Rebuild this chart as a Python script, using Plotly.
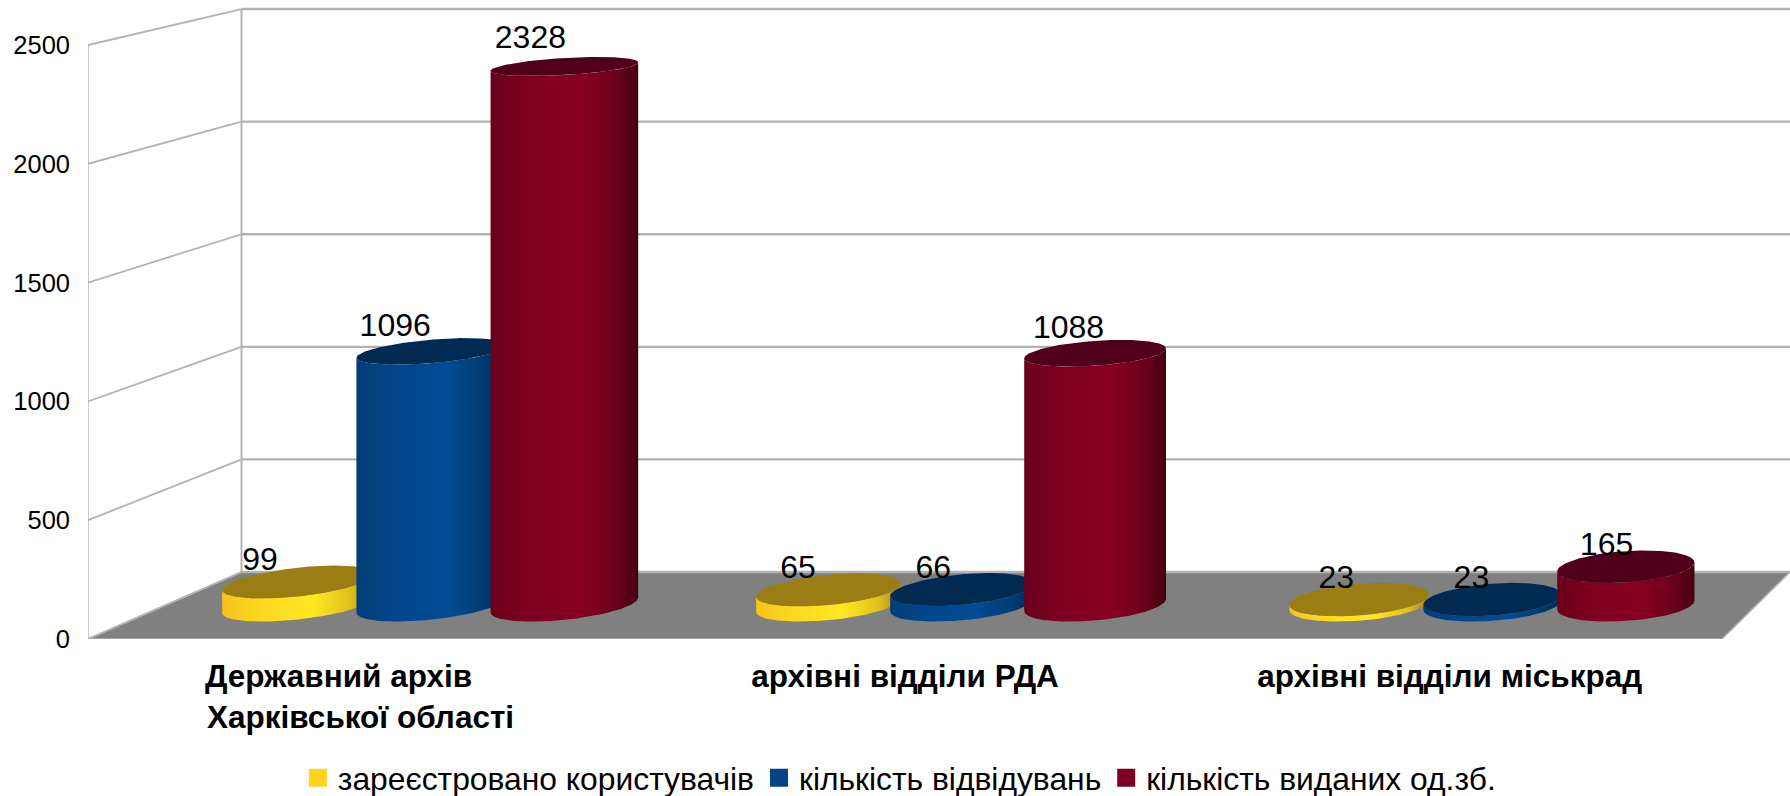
import numpy as np
import plotly.graph_objects as go

# ---------- data ----------
categories = ["Державний архів", "архівні відділи РДА", "архівні відділи міськрад"]
category_second_line = "Харківської області"
series_names = ["зареєстровано користувачів", "кількість відвідувань", "кількість виданих од.зб."]
registered = [99, 65, 23]
visits = [1096, 66, 23]
issued = [2328, 1088, 165]
y_ticks = [0, 500, 1000, 1500, 2000, 2500]

# ---------- style ----------
W, H = 1790, 796
FONT = "Liberation Sans"
GRID = "#b3b3b3"
FLOOR = "#808080"
legend_colors = ["#ffd320", "#004586", "#7e0021"]
top_colors = ["#9a7e14", "#002a52", "#50001a"]
body_scales = [
    [[0, "#f6c31c"], [0.25, "#fdd720"], [0.6, "#ffe821"], [0.85, "#e0c01e"], [1, "#a08414"]],
    [[0, "#003e76"], [0.25, "#00468a"], [0.6, "#004c94"], [0.85, "#003c72"], [1, "#00274e"]],
    [[0, "#6a001c"], [0.25, "#7e0021"], [0.6, "#880024"], [0.85, "#6c001c"], [1, "#440010"]],
]

# axis scale: pixels per category and per value unit
PX_CAT = 544.67
PX_VAL = 0.2376
X0_PX, Y0_PX = 88, 639

# one-point perspective of the chart box
VX = (3023 - X0_PX) / PX_CAT
VY = (Y0_PX + 642) / PX_VAL
SHRINK = 0.0523


def project(x, v, d):
    s = 1 - SHRINK * np.asarray(d, dtype=float)
    return VX + (np.asarray(x, dtype=float) - VX) * s, VY + (np.asarray(v, dtype=float) - VY) * s


fig = go.Figure()


def line(xs, ys, width):
    fig.add_trace(go.Scatter(x=xs, y=ys, mode="lines", line=dict(color=GRID, width=width),
                             showlegend=False, hoverinfo="skip", cliponaxis=False))


n = len(categories)
FRONT_R = 3.0
x_end = (W - X0_PX) / PX_CAT

# floor
fx, fy = project([0, FRONT_R, FRONT_R, 0, 0], [0, 0, 0, 0, 0], [0, 0, 1, 1, 0])
fig.add_trace(go.Scatter(x=fx, y=fy, mode="lines", fill="toself", fillcolor=FLOOR,
                         line=dict(color=GRID, width=1.5), showlegend=False, hoverinfo="skip",
                         cliponaxis=False))
# walls
top = y_ticks[-1]
for t in y_ticks:
    bx, by = project([0, 0, FRONT_R], [t, t, t], [0, 1, 1])
    line(bx[:2], by[:2], 1.8)
    line(bx[1:], by[1:], 2.4)
lx, ly = project([0, 0], [0, top], [0, 0])
line(lx, ly, 1.4)
lx, ly = project([0, 0], [0, top], [1, 1])
line(lx, ly, 2)

# cylinders
GROUP0, GROUP_STEP = 0.5001, 1.001
BAR_STEP = 0.2515
RX = 0.1245
DC, DR = 0.51, 0.25
LABEL_D = 0.25
LABEL_UP = 36.8 / PX_VAL
theta = np.linspace(0, 2 * np.pi, 240, endpoint=False)
values = [registered, visits, issued]
label_x = [[], [], []]
label_y = [[], [], []]
label_t = [[], [], []]

for g in range(n):
    gc = GROUP0 + GROUP_STEP * g
    for k, vals in enumerate(values):
        v = vals[g]
        xc = gc + BAR_STEP * (k - 1)
        ex = xc + RX * np.cos(theta)
        ed = DC + DR * np.sin(theta)
        px, py_bottom = project(ex, np.zeros_like(ex), ed)
        _, py_top = project(ex, np.full_like(ex, v), ed)
        i0 = int(np.argmin(px))
        px_r, b_r, t_r = np.roll(px, -i0), np.roll(py_bottom, -i0), np.roll(py_top, -i0)
        i1 = int(np.argmax(px_r))
        body_x = np.concatenate([px_r[: i1 + 1], px_r[: i1 + 1][::-1], px_r[:1]])
        body_y = np.concatenate([b_r[: i1 + 1], t_r[: i1 + 1][::-1], b_r[:1]])
        fig.add_trace(go.Scatter(x=body_x, y=body_y, mode="lines", fill="toself",
                                 line=dict(width=0), showlegend=False, hoverinfo="skip",
                                 fillgradient=dict(type="horizontal", colorscale=body_scales[k])))
        fig.add_trace(go.Scatter(x=np.append(px, px[0]), y=np.append(py_top, py_top[0]), mode="lines",
                                 fill="toself", fillcolor=top_colors[k], line=dict(width=0),
                                 showlegend=False, hoverinfo="skip"))
        lx, ly = project(xc, v, LABEL_D)
        label_x[k].append(float(lx))
        label_y[k].append(float(ly) + LABEL_UP)
        label_t[k].append(str(v))

# value labels
for k in range(3):
    fig.add_trace(go.Scatter(x=label_x[k], y=label_y[k], text=label_t[k], mode="text",
                             textposition="middle center", cliponaxis=False,
                             textfont=dict(family=FONT, size=32, color="#000000"),
                             showlegend=False, hoverinfo="skip"))

# legend entries
for k in range(3):
    fig.add_trace(go.Scatter(x=[None], y=[None], mode="markers", name=series_names[k],
                             marker=dict(symbol="square", size=16, color=legend_colors[k],
                                         line=dict(color=legend_colors[k], width=2))))

CAT_FONT = dict(family=FONT, size=31.5, color="#000000")
fig.add_annotation(x=0.5, xref="x", y=1 - 716.7 / H, yref="paper", yanchor="middle", xanchor="center",
                   text=f"<b>{category_second_line}</b>", showarrow=False, font=CAT_FONT)

fig.update_layout(
    template="none",
    width=W, height=H, margin=dict(l=0, r=0, t=0, b=0, autoexpand=False),
    paper_bgcolor="#ffffff", plot_bgcolor="#ffffff",
    font=dict(family=FONT, color="#000000"),
    hovermode=False,
    xaxis=dict(domain=[X0_PX / W, 1], range=[0, x_end], showgrid=False, zeroline=False,
               showline=False, automargin=False, tickmode="array",
               tickvals=[0.46, 1.5, 2.5],
               ticktext=[f"<b>{c}</b>" for c in categories],
               ticks="outside", ticklen=9, tickcolor="rgba(0,0,0,0)",
               tickfont=CAT_FONT),
    yaxis=dict(domain=[(H - Y0_PX) / H, 1], range=[0, Y0_PX / PX_VAL], showgrid=False, zeroline=False,
               showline=False, automargin=False, tickmode="array", tickvals=y_ticks,
               ticks="", ticklabelstandoff=17,
               tickfont=dict(family=FONT, size=25.5, color="#000000")),
    showlegend=True,
    legend=dict(orientation="h", x=0.1664, xanchor="left", y=1 - 778 / H, yanchor="middle",
                font=dict(family=FONT, size=31.8, color="#000000"),
                bgcolor="rgba(0,0,0,0)", itemclick=False, itemdoubleclick=False),
)

fig.write_html("out.html", post_script="document.body.style.margin='0';",
               config={"displayModeBar": False})
